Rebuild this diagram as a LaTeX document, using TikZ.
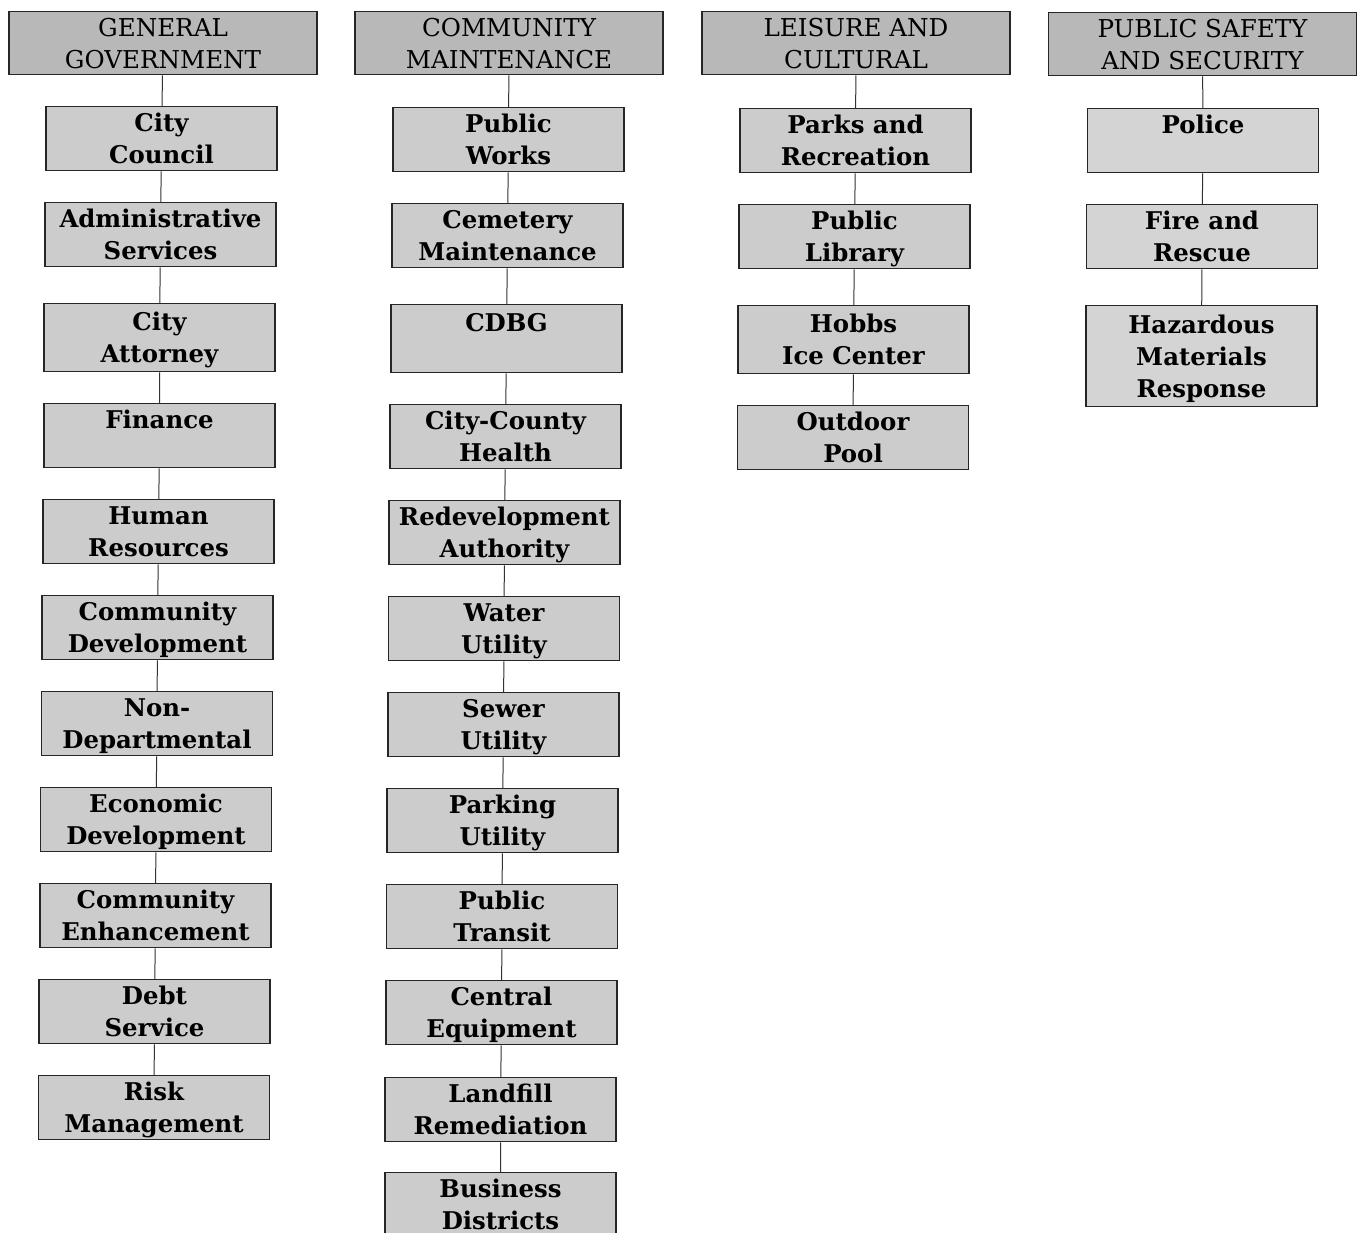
\documentclass[tikz,border=0pt]{standalone}
\usepackage{fontspec}
\setmainfont{DejaVu Serif}
\usetikzlibrary{positioning}

\begin{document}
\begin{tikzpicture}[
  x=0.5pt, y=-0.5pt, % one unit is one pixel of the scan
  group/.style={
    draw=black!85, line width=0.7pt, fill=black!28, anchor=north,
    minimum width=154pt, minimum height=31.5pt, inner sep=0pt,
    align=center, text depth=0pt, font=\fontsize{12.3}{16}\selectfont,
  },
  unit/.style={
    draw=black!85, line width=0.7pt, fill=black!20, anchor=north,
    minimum width=115.5pt, minimum height=32pt, inner sep=0pt,
    align=center, text depth=0pt,
    font=\fontsize{12.2}{16}\selectfont\bfseries,
  },
  tall/.style={minimum height=34pt}, % third row is a little higher
  link/.style={draw=black!80, line width=0.5pt},
]
  \useasboundingbox (0,0) rectangle (1364,1232);

  % general government
  \node[group] (gg) at (163,11) {GENERAL\\GOVERNMENT};
  \node[unit] (cc) at (161.5,106) {City\\Council};
  \node[unit] (as) at (160.5,202) {Administrative\\Services};
  \node[unit, tall] (ca) at (159.5,303) {City\\Attorney};
  \node[unit] (fi) at (159.5,403) {Finance\\\mbox{}};
  \node[unit] (hr) at (158.5,499) {Human\\Resources};
  \node[unit] (cd) at (157.5,595) {Community\\Development};
  \node[unit] (nd) at (157,691) {Non-\\Departmental};
  \node[unit] (ed) at (156,787) {Economic\\Development};
  \node[unit] (ce) at (155.5,883) {Community\\Enhancement};
  \node[unit] (ds) at (154.5,979) {Debt\\Service};
  \node[unit] (rm) at (154,1075) {Risk\\Management};
  %% links
  \draw[link] (gg) -- (cc) -- (as) -- (ca) -- (fi) -- (hr) -- (cd)
    -- (nd) -- (ed) -- (ce) -- (ds) -- (rm);

  % community maintenance
  \node[group] (cm) at (509,11) {COMMUNITY\\MAINTENANCE};
  \node[unit] (pw) at (508.5,107) {Public\\Works};
  \node[unit] (cem) at (507.5,203) {Cemetery\\Maintenance};
  \node[unit, tall] (cdbg) at (506.5,304) {CDBG\\\mbox{}};
  \node[unit] (cch) at (505.5,404) {City-County\\Health};
  \node[unit] (ra) at (504.5,500) {Redevelopment\\Authority};
  \node[unit] (wu) at (504,596) {Water\\Utility};
  \node[unit] (su) at (503.5,692) {Sewer\\Utility};
  \node[unit] (pu) at (502.5,788) {Parking\\Utility};
  \node[unit] (pt) at (502,884) {Public\\Transit};
  \node[unit] (ceq) at (501.5,980) {Central\\Equipment};
  \node[unit] (lr) at (500.5,1077) {Landfill\\Remediation};
  \node[unit] (bd) at (500.5,1172) {Business\\Districts};
  %% links
  \draw[link] (cm) -- (pw) -- (cem) -- (cdbg) -- (cch) -- (ra) -- (wu)
    -- (su) -- (pu) -- (pt) -- (ceq) -- (lr) -- (bd);

  % leisure and cultural
  \node[group] (lc) at (856,11) {LEISURE AND\\CULTURAL};
  \node[unit] (pr) at (855.5,108) {Parks and\\Recreation};
  \node[unit] (pl) at (854.5,204) {Public\\Library};
  \node[unit, tall] (hic) at (853.5,305) {Hobbs\\Ice Center};
  \node[unit] (op) at (853,405) {Outdoor\\Pool};
  %% links
  \draw[link] (lc) -- (pr) -- (pl) -- (hic) -- (op);

  % public safety and security
  \node[group] (pss) at (1202.5,12) {PUBLIC SAFETY\\AND SECURITY};
  \node[unit, fill=black!17] (po) at (1203,108) {Police\\\mbox{}};
  \node[unit, fill=black!17] (fr) at (1202,204) {Fire and\\Rescue};
  \node[unit, fill=black!17, minimum height=50.5pt] (hm) at (1201.5,305)
    {Hazardous\\Materials\\Response};
  %% links
  \draw[link] (pss) -- (po) -- (fr) -- (hm);

\end{tikzpicture}
\end{document}
